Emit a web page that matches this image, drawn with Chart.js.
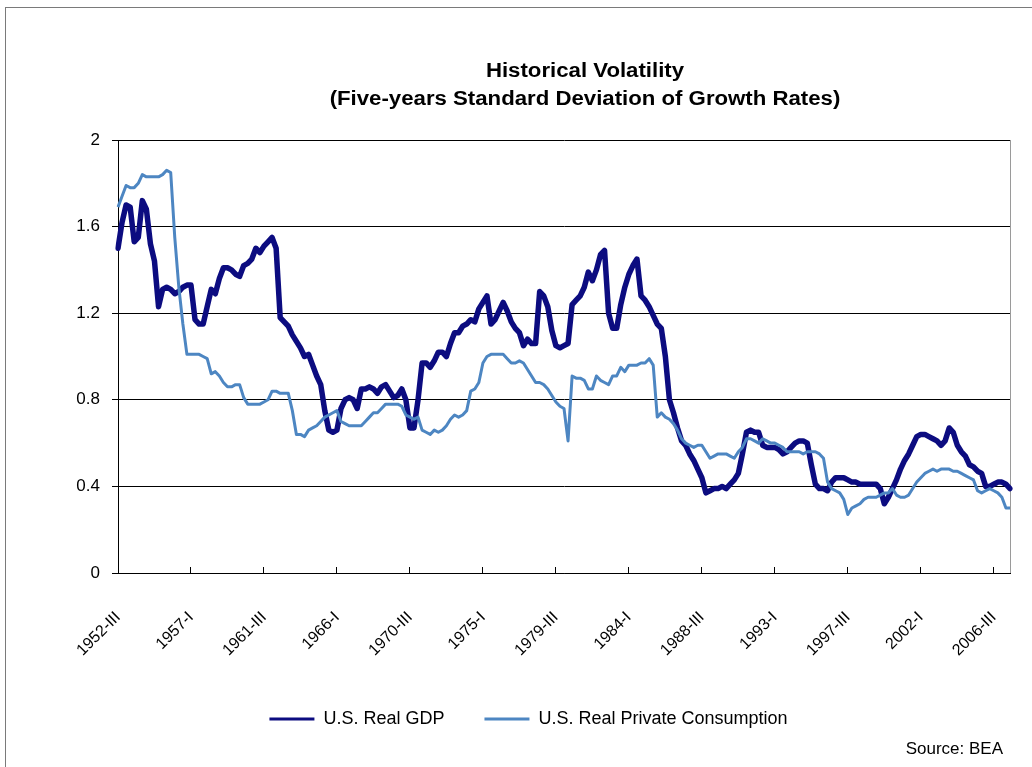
<!DOCTYPE html>
<html>
<head>
<meta charset="utf-8">
<script src="https://cdn.jsdelivr.net/npm/chart.js@4/dist/chart.umd.min.js"></script>
<style>
  html, body { margin:0; padding:0; background:#fff; overflow:hidden; width:1032px; height:767px; }
  #frame { position:absolute; left:5px; top:7px; width:1100px; height:800px; border:1px solid #7a7a7a; box-sizing:border-box; }
  #wrap { position:absolute; left:0; top:0; width:1032px; height:767px; }
  .ttl { position:absolute; left:285px; width:600px; text-align:center; font-family:"Liberation Sans", Arial, sans-serif; font-weight:bold; font-size:20px; color:#000; white-space:nowrap; line-height:24px; transform:scaleX(1.11); transform-origin:50% 50%; }
  #source { position:absolute; right:29px; top:739px; font-family:"Liberation Sans", Arial, sans-serif; font-size:17px; color:#000; }
</style>
</head>
<body>
<div id="frame"></div>
<div id="wrap"><canvas id="c" width="1032" height="767"></canvas></div>
<div class="ttl" style="top:58px">Historical Volatility</div>
<div class="ttl" style="top:86px">(Five-years Standard Deviation of Growth Rates)</div>
<div id="source">Source: BEA</div>
<script>
// Five-year standard deviation of quarterly growth rates, 1952-III .. 2007-III
const gdp = [
  1.50,1.62,1.70,1.69,1.53,1.55,1.72,1.68,1.52,1.44,
  1.23,1.31,1.32,1.31,1.29,1.30,1.32,1.33,1.33,1.17,
  1.15,1.15,1.23,1.31,1.29,1.36,1.41,1.41,1.40,1.38,
  1.37,1.42,1.43,1.45,1.50,1.48,1.51,1.53,1.55,1.50,
  1.18,1.16,1.14,1.10,1.07,1.04,1.00,1.01,0.96,0.91,
  0.87,0.75,0.66,0.65,0.66,0.76,0.80,0.81,0.80,0.76,
  0.85,0.85,0.86,0.85,0.83,0.86,0.87,0.84,0.81,0.82,
  0.85,0.80,0.67,0.67,0.80,0.97,0.97,0.95,0.98,1.02,
  1.02,1.00,1.06,1.11,1.11,1.14,1.15,1.17,1.16,1.22,
  1.25,1.28,1.15,1.17,1.21,1.25,1.21,1.16,1.13,1.11,
  1.05,1.08,1.06,1.06,1.30,1.28,1.23,1.12,1.05,1.04,
  1.05,1.06,1.24,1.26,1.28,1.32,1.39,1.35,1.40,1.47,
  1.49,1.20,1.13,1.13,1.24,1.32,1.38,1.42,1.45,1.28,
  1.26,1.23,1.19,1.15,1.13,1.00,0.80,0.74,0.67,0.61,
  0.59,0.55,0.52,0.48,0.44,0.37,0.38,0.39,0.39,0.40,
  0.39,0.41,0.43,0.46,0.55,0.65,0.66,0.65,0.65,0.59,
  0.58,0.58,0.58,0.57,0.55,0.56,0.58,0.60,0.61,0.61,
  0.60,0.50,0.41,0.39,0.39,0.38,0.42,0.44,0.44,0.44,
  0.43,0.42,0.42,0.41,0.41,0.41,0.41,0.41,0.39,0.32,
  0.35,0.39,0.43,0.48,0.52,0.55,0.59,0.63,0.64,0.64,
  0.63,0.62,0.61,0.59,0.61,0.67,0.65,0.59,0.56,0.54,
  0.50,0.49,0.47,0.46,0.40,0.40,0.41,0.42,0.42,0.41,
  0.39
];
const consumption = [
  1.69,1.74,1.79,1.78,1.78,1.80,1.84,1.83,1.83,1.83,
  1.83,1.84,1.86,1.85,1.55,1.32,1.15,1.01,1.01,1.01,
  1.01,1.00,0.99,0.92,0.93,0.91,0.88,0.86,0.86,0.87,
  0.87,0.81,0.78,0.78,0.78,0.78,0.79,0.80,0.84,0.84,
  0.83,0.83,0.83,0.75,0.64,0.64,0.63,0.66,0.67,0.68,
  0.70,0.72,0.73,0.74,0.75,0.70,0.69,0.68,0.68,0.68,
  0.68,0.70,0.72,0.74,0.74,0.76,0.78,0.78,0.78,0.78,
  0.77,0.73,0.72,0.71,0.72,0.66,0.65,0.64,0.66,0.65,
  0.66,0.68,0.71,0.73,0.72,0.73,0.75,0.84,0.85,0.88,
  0.97,1.00,1.01,1.01,1.01,1.01,0.99,0.97,0.97,0.98,
  0.97,0.94,0.91,0.88,0.88,0.87,0.85,0.82,0.79,0.77,
  0.76,0.61,0.91,0.90,0.90,0.89,0.85,0.85,0.91,0.89,
  0.88,0.87,0.91,0.91,0.95,0.93,0.96,0.96,0.96,0.97,
  0.97,0.99,0.96,0.72,0.74,0.72,0.71,0.69,0.66,0.62,
  0.60,0.59,0.58,0.59,0.59,0.56,0.53,0.54,0.55,0.55,
  0.55,0.54,0.53,0.56,0.58,0.62,0.62,0.61,0.60,0.62,
  0.61,0.60,0.60,0.59,0.58,0.56,0.56,0.56,0.56,0.55,
  0.56,0.56,0.56,0.55,0.53,0.42,0.39,0.38,0.37,0.34,
  0.27,0.30,0.31,0.32,0.34,0.35,0.35,0.35,0.36,0.37,
  0.37,0.39,0.36,0.35,0.35,0.36,0.39,0.42,0.44,0.46,
  0.47,0.48,0.47,0.48,0.48,0.48,0.47,0.47,0.46,0.45,
  0.44,0.43,0.38,0.37,0.38,0.39,0.38,0.37,0.35,0.30,
  0.30
];
const tickLabels = ['1952-III','1957-I','1961-III','1966-I','1970-III','1975-I','1979-III',
                    '1984-I','1988-III','1993-I','1997-III','2002-I','2006-III'];
const yTicks = [0, 0.4, 0.8, 1.2, 1.6, 2];
const seriesNames = ['U.S. Real GDP', 'U.S. Real Private Consumption'];
const romans = ['I','II','III','IV'];
const startYear = 1952, startQuarter = 2; // 0-based: III
const categories = gdp.map((_, k) => {
  const q = startQuarter + k;
  return (startYear + Math.floor(q / 4)) + '-' + romans[q % 4];
});
const TICK_EVERY = 18;

const FONT = '"Liberation Sans", Arial, sans-serif';

const plotBorder = {
  id: 'plotBorder',
  beforeDatasetsDraw(chart) {
    const { ctx, chartArea: a } = chart;
    ctx.save();
    ctx.strokeStyle = '#9a9a9a';
    ctx.lineWidth = 1;
    ctx.beginPath();
    ctx.moveTo(Math.round(a.right) + 0.5, a.top);
    ctx.lineTo(Math.round(a.right) + 0.5, a.bottom);
    ctx.stroke();
    ctx.restore();
  }
};

new Chart(document.getElementById('c'), {
  type: 'line',
  data: {
    labels: categories,
    datasets: [
      { label: seriesNames[0], data: gdp, borderColor: '#0c0c80', backgroundColor: '#0c0c80',
        borderWidth: 5.5, pointRadius: 0, tension: 0, order: 1, borderJoinStyle: 'round', borderCapStyle: 'round' },
      { label: seriesNames[1], data: consumption, borderColor: '#4d86c2', backgroundColor: '#4d86c2',
        borderWidth: 3, pointRadius: 0, tension: 0, order: 0, borderJoinStyle: 'round' }
    ]
  },
  options: {
    responsive: false,
    animation: false,
    devicePixelRatio: 1,
    layout: { padding: { left: 47, right: 22, top: 140, bottom: 29 } },
    plugins: {
      title: { display: false },
      tooltip: { enabled: false },
      legend: {
        position: 'bottom',
        labels: {
          boxWidth: 45, boxHeight: 3, padding: 40, color: '#000',
          font: { family: FONT, size: 18 },
          sort: (a, b) => a.datasetIndex - b.datasetIndex,
          generateLabels: (chart) => chart.data.datasets.map((d, i) => ({
            text: d.label, fillStyle: d.borderColor, strokeStyle: d.borderColor,
            lineWidth: 0, hidden: false, datasetIndex: i, fontColor: '#000'
          }))
        }
      }
    },
    scales: {
      x: {
        type: 'category',
        offset: false,
        border: { display: true, color: '#000', width: 1 },
        grid: {
          drawOnChartArea: false, drawTicks: true, tickLength: -6,
          color: (ctx) => (ctx.index % TICK_EVERY === 0 ? '#000' : 'rgba(0,0,0,0)'),
          tickColor: (ctx) => (ctx.index % TICK_EVERY === 0 ? '#000' : 'rgba(0,0,0,0)')
        },
        ticks: {
          autoSkip: false, minRotation: 45, maxRotation: 45, padding: 41, color: '#000',
          font: { family: FONT, size: 16 },
          callback: (v, i) => (i % TICK_EVERY === 0 ? tickLabels[i / TICK_EVERY] : '')
        },
        afterFit: (s) => { s.height = 97; s.paddingLeft = 0; s.paddingRight = 0; }
      },
      y: {
        min: 0, max: 2,
        border: { display: true, color: '#000', width: 1 },
        grid: { color: '#000', lineWidth: 1, drawTicks: true, tickLength: 6 },
        ticks: {
          stepSize: 0.4, padding: 12, color: '#000',
          font: { family: FONT, size: 17 },
          callback: (v) => String(+Number(v).toFixed(1))
        },
        afterBuildTicks: (s) => { s.ticks = yTicks.map(v => ({ value: v })); },
        afterFit: (s) => { s.width = 71; }
      }
    }
  },
  plugins: [plotBorder]
});
</script>
</body>
</html>
